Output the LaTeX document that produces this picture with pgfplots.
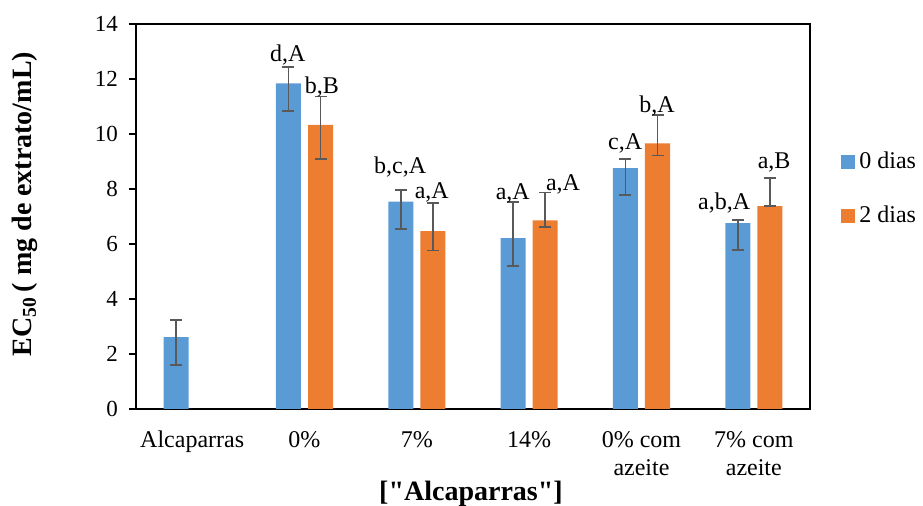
\documentclass[border=0pt]{standalone}
\usepackage{pgfplots}
\pgfplotsset{compat=1.18}
\usepackage{fontspec}
\setmainfont{Liberation Serif}
\newfontfamily\rawserif{Liberation Serif}[Ligatures=ResetAll]
\definecolor{cblue}{HTML}{5B9BD5}
\definecolor{corange}{HTML}{ED7D31}
\definecolor{cerr}{HTML}{595959}
\begin{document}
\begin{tikzpicture}
\useasboundingbox (-68pt,-48.5pt) rectangle (393.5pt,204.5pt);
\begin{axis}[
  at={(0,0)}, anchor=south west,
  scale only axis,
  width=337pt, height=192.5pt,
  xmin=-0.5, xmax=5.5,
  ymin=0, ymax=14,
  ytick={0,2,...,14},
  xtick={0,1,2,3,4,5},
  xticklabels={Alcaparras, 0\%, 7\%, 14\%, {0\% com\\azeite}, {7\% com\\azeite}},
  xticklabel style={align=center, font=\fontsize{12}{14}\selectfont, yshift=-4pt},
  yticklabel style={font=\fontsize{11.5}{13}\selectfont, xshift=-2pt},
  /pgf/number format/assume math mode=true,
  major x tick style={draw=none},
  ytick pos=left,
  tick align=outside,
  major tick length=3.5pt,
  tick style={black, line width=0.6pt},
  axis line style={black, line width=0.8pt},
  ybar,
  bar width=0.2226,
  ylabel={\textbf{EC\textsubscript{50}\,( mg de extrato/mL)}},
  ylabel style={font=\fontsize{14}{16}\selectfont, at={(axis description cs:-0.1647,0.532)}, anchor=center},
  xlabel={{\rawserif\bfseries ["Alcaparras"]}},
  xlabel style={font=\fontsize{14}{16}\selectfont, at={(axis description cs:0.497,-0.2208)}, anchor=center},
  legend style={draw=none, fill=none, at={(axis description cs:1.046,0.5715)}, anchor=west,
    inner sep=0pt, row sep=13pt, font=\fontsize{12}{14}\selectfont,
    /tikz/every even column/.append style={column sep=2pt}},
  legend cell align=left,
  legend image code/.code={\fill[#1] (0pt,-3.5pt) rectangle (7pt,3.5pt);},
  error bars/error bar style={cerr, line width=0.9pt},
  error bars/error mark options={cerr, rotate=90, mark size=3pt, line width=0.9pt},
]
\addplot+[bar shift=-0.1425, fill=cblue, draw=none,
  error bars/.cd, y dir=both, y explicit]
  coordinates {
  (0,2.61) += (0,0.63) -= (0,1.00)
  (1,11.84) += (0,0.61) -= (0,1.00)
  (2,7.54) += (0,0.41) -= (0,1.00)
  (3,6.21) += (0,1.32) -= (0,1.00)
  (4,8.76) += (0,0.33) -= (0,0.98)
  (5,6.76) += (0,0.11) -= (0,0.98)
  };
\addlegendentry{0 dias}
\addplot+[bar shift=0.1425, fill=corange, draw=none,
  error bars/.cd, y dir=both, y explicit]
  coordinates {
  (1,10.33) += (0,1.03) -= (0,1.23)
  (2,6.47) += (0,1.01) -= (0,0.71)
  (3,6.86) += (0,1.01) -= (0,0.24)
  (4,9.66) += (0,1.02) -= (0,0.44)
  (5,7.38) += (0,1.01) -= (0,0.00)
  };
\addlegendentry{2 dias}
\begin{scope}[every node/.style={font=\fontsize{12}{14}\selectfont, inner sep=0pt, anchor=center}]
\node at (axis cs:0.851,12.87) {d,A};
\node at (axis cs:1.154,11.71) {b,B};
\node at (axis cs:1.851,8.80) {b,c,A};
\node at (axis cs:2.133,7.89) {a,A};
\node at (axis cs:2.854,7.85) {a,A};
\node at (axis cs:3.302,8.18) {a,A};
\node at (axis cs:3.854,9.67) {c,A};
\node at (axis cs:4.139,11.02) {b,A};
\node at (axis cs:4.736,7.49) {a,b,A};
\node at (axis cs:5.181,8.95) {a,B};
\end{scope}
\end{axis}
\end{tikzpicture}
\end{document}
